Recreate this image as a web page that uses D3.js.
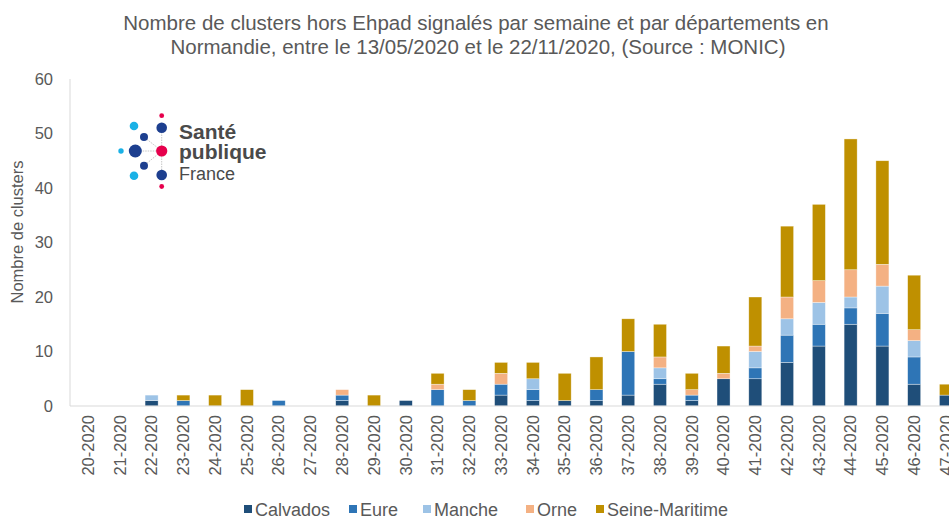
<!DOCTYPE html>
<html>
<head>
<meta charset="utf-8">
<script src="https://cdn.jsdelivr.net/npm/d3@7"></script>
<style>
  body { margin: 0; background: #fff; }
  svg { font-family: "Liberation Sans", Arial, sans-serif; }
</style>
</head>
<body>
<div id="chart"></div>
<script>
const chartWidth = 949;
const chartHeight = 517;

const weeks = ['20-2020', '21-2020', '22-2020', '23-2020', '24-2020', '25-2020', '26-2020',
               '27-2020', '28-2020', '29-2020', '30-2020', '31-2020', '32-2020', '33-2020',
               '34-2020', '35-2020', '36-2020', '37-2020', '38-2020', '39-2020', '40-2020',
               '41-2020', '42-2020', '43-2020', '44-2020', '45-2020', '46-2020', '47-2020'];
const departements = ['Calvados', 'Eure', 'Manche', 'Orne', 'Seine-Maritime'];
const calvados = [0, 0, 1, 0, 0, 0, 0, 0, 1, 0, 1, 0, 0, 2, 1, 1, 1, 2, 4, 1, 5, 5, 8, 11, 15, 11, 4, 2];
const eure     = [0, 0, 0, 1, 0, 0, 1, 0, 1, 0, 0, 3, 1, 2, 2, 0, 2, 8, 1, 1, 0, 2, 5, 4, 3, 6, 5, 0];
const manche   = [0, 0, 1, 0, 0, 0, 0, 0, 0, 0, 0, 0, 0, 0, 2, 0, 0, 0, 2, 0, 0, 3, 3, 4, 2, 5, 3, 0];
const orne     = [0, 0, 0, 0, 0, 0, 0, 0, 1, 0, 0, 1, 0, 2, 0, 0, 0, 0, 2, 1, 1, 1, 4, 4, 5, 4, 2, 0];
const seineMaritime = [0, 0, 0, 1, 2, 3, 0, 0, 0, 2, 0, 2, 2, 2, 3, 5, 6, 6, 6, 3, 5, 9, 13, 14, 24, 19, 10, 2];
const yTicks = [0, 10, 20, 30, 40, 50, 60];

const colors = ['#1f4e79', '#2e75b6', '#9dc3e6', '#f4b183', '#bf9000'];
const textColor = '#595959';

const series = [calvados, eure, manche, orne, seineMaritime];
const table = weeks.map((w, i) => {
    const row = { week: w };
    departements.forEach((d, j) => { row[d] = series[j][i]; });
    return row;
});

const svg = d3.select('#chart')
            .append('svg')
            .attr('width', chartWidth)
            .attr('height', chartHeight);

const xScale = d3.scaleBand()
            .domain(weeks)
            .range([72, 962])
            .paddingInner(0.59)
            .paddingOuter(0.3);

const yScale = d3.scaleLinear()
            .domain([0, 60])
            .range([406, 79]);

const stacked = d3.stack().keys(departements)(table);

// title
const title = svg.append('text')
    .attr('text-anchor', 'middle')
    .attr('fill', textColor)
    .attr('font-size', 20.5);
title.append('tspan').attr('x', 476).attr('y', 30)
    .text('Nombre de clusters hors Ehpad signalés par semaine et par départements en');
title.append('tspan').attr('x', 478).attr('y', 54)
    .text('Normandie, entre le 13/05/2020 et le 22/11/2020, (Source : MONIC)');

// axes lines
svg.append('line')
    .attr('x1', 70).attr('x2', 70)
    .attr('y1', yScale(60)).attr('y2', yScale(0))
    .attr('stroke', '#d9d9d9');

const plotData = () => {
    svg.append('g')
        .selectAll('g')
        .data(stacked)
        .enter()
        .append('g')
        .attr('fill', (d, i) => colors[i])
        .selectAll('rect')
        .data(d => d.filter(s => s[1] > s[0]))
        .enter()
        .append('rect')
        .attr('x', d => xScale(d.data.week))
        .attr('y', d => yScale(d[1]))
        .attr('height', d => yScale(d[0]) - yScale(d[1]))
        .attr('width', xScale.bandwidth())
        .attr('stroke', '#ffffff')
        .attr('stroke-opacity', 0.6)
        .attr('stroke-width', 0.6);
};

const plotAxis = () => {
    const xAxis = d3.axisBottom(xScale).tickSize(0).tickPadding(0);
    const yAxis = d3.axisLeft(yScale).tickValues(yTicks).tickSize(0).tickPadding(17);

    const gx = svg.append('g')
        .attr('transform', 'translate(0,' + yScale(0) + ')')
        .call(xAxis);
    gx.select('.domain').attr('stroke', '#d9d9d9').attr('d', 'M70,0H949');
    gx.selectAll('text')
        .attr('fill', textColor)
        .attr('font-size', 16.5)
        .attr('text-anchor', 'end')
        .attr('dy', '0.35em')
        .attr('transform', 'translate(0,9) rotate(-90)')
        .attr('x', 0).attr('y', 0);

    const gy = svg.append('g')
        .attr('transform', 'translate(70,0)')
        .call(yAxis);
    gy.select('.domain').remove();
    gy.selectAll('text')
        .attr('fill', textColor)
        .attr('font-size', 16.5);

    svg.append('text')
        .attr('transform', 'translate(23,' + 232 + ') rotate(-90)')
        .attr('text-anchor', 'middle')
        .attr('fill', textColor)
        .attr('font-size', 16.5)
        .text('Nombre de clusters');
};

const plotLegend = () => {
    const legendX = [244, 349, 423, 526, 596];
    const legend = svg.append('g')
        .selectAll('g')
        .data(departements)
        .enter()
        .append('g')
        .attr('transform', (d, i) => 'translate(' + legendX[i] + ',509)');
    legend.append('rect')
        .attr('x', 0).attr('y', -4)
        .attr('width', 8).attr('height', 8)
        .attr('fill', (d, i) => colors[i]);
    legend.append('text')
        .attr('x', 11).attr('y', 6.5)
        .attr('fill', textColor)
        .attr('font-size', 18)
        .text(d => d);
};

const plotLogo = () => {
    const logo = svg.append('g');
    const center = [161.7, 151];
    const links = [[161.7, 127.7], [144, 137], [135.3, 151], [144, 165.7], [161.7, 175]];
    logo.selectAll('line')
        .data(links)
        .enter()
        .append('line')
        .attr('x1', center[0]).attr('y1', center[1])
        .attr('x2', d => d[0]).attr('y2', d => d[1])
        .attr('stroke', '#b8b8b8')
        .attr('stroke-width', 0.8)
        .attr('stroke-dasharray', '1.5,1');
    const dots = [
        [161.7, 115.7, 2.4, '#e6004c'],
        [161.7, 127.7, 5.3, '#1d3f8f'],
        [134, 126, 4.3, '#1ab1e6'],
        [144, 137, 4, '#1d3f8f'],
        [121, 151, 2.7, '#1ab1e6'],
        [135.3, 151, 6.5, '#1d3f8f'],
        [161.7, 151, 5.6, '#e6004c'],
        [144, 165.7, 4, '#1d3f8f'],
        [134, 175.7, 4.3, '#1ab1e6'],
        [161.7, 175, 5.3, '#1d3f8f'],
        [161.7, 186.5, 2.4, '#e6004c']
    ];
    logo.selectAll('circle')
        .data(dots)
        .enter()
        .append('circle')
        .attr('cx', d => d[0]).attr('cy', d => d[1])
        .attr('r', d => d[2])
        .attr('fill', d => d[3]);
    logo.append('text').attr('x', 179).attr('y', 139)
        .attr('font-size', 21).attr('font-weight', 'bold').attr('fill', '#4a4a4a')
        .text('Santé');
    logo.append('text').attr('x', 179).attr('y', 159)
        .attr('font-size', 21).attr('font-weight', 'bold').attr('fill', '#4a4a4a')
        .text('publique');
    logo.append('text').attr('x', 179).attr('y', 180)
        .attr('font-size', 18).attr('fill', '#4a4a4a')
        .text('France');
};

plotData();
plotAxis();
plotLegend();
plotLogo();
</script>
</body>
</html>
